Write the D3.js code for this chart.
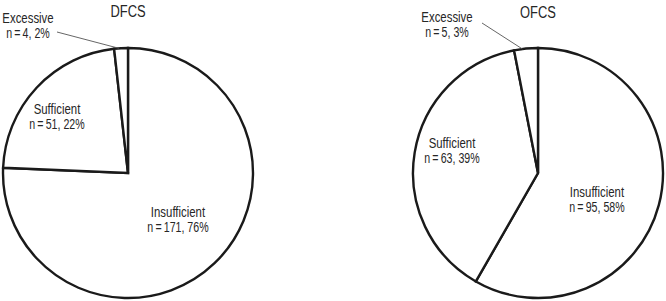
<!DOCTYPE html>
<html>
<head>
<meta charset="utf-8">
<script src="https://cdn.jsdelivr.net/npm/d3@7"></script>
<style>
  html, body { margin: 0; padding: 0; background: #fff; }
  svg text { font-family: "Liberation Sans", Arial, sans-serif; fill: #262626; }
</style>
</head>
<body>
<svg id="chart" width="666" height="301"></svg>
<script>
// datos
const categories = ["Insufficient", "Sufficient", "Excessive"];
const dfcsCounts = [171, 51, 4];
const dfcsPct = [76, 22, 2];
const ofcsCounts = [95, 63, 5];
const ofcsPct = [58, 39, 3];
const titles = ["DFCS", "OFCS"];

// layout de cada torta (centro, radio, posiciones de etiquetas relativas al centro)
const charts = [
  { title: titles[0], counts: dfcsCounts, pct: dfcsPct, cx: 128, cy: 173, r: 125, titleY: 17,
    labels: [{dx: 50, dy: 44}, {dx: -71, dy: -59}, {dx: -100, dy: -150}],
    leaderFrom: {dx: -71, dy: -141} },
  { title: titles[1], counts: ofcsCounts, pct: ofcsPct, cx: 538, cy: 173, r: 125, titleY: 18,
    labels: [{dx: 59, dy: 24}, {dx: -86, dy: -25}, {dx: -91, dy: -151}],
    leaderFrom: {dx: -56, dy: -150} }
];

// fuente condensada: escalamos en x
const SX = 0.76;

function label(parent, x, y, lines, sizes){
  const g = parent.append("g").attr("transform", `translate(${x},${y}) scale(${SX},1)`);
  lines.forEach((s, i) => {
    g.append("text")
      .attr("x", 0)
      .attr("y", i * 15.5)
      .attr("text-anchor", "middle")
      .attr("font-size", sizes[i])
      .text(s);
  });
}

const svg = d3.select("#chart");

const pie = d3.pie().sort(null).value(d => d.count);

charts.forEach(c => {
  const rows = categories.map((name, i) => ({name, count: c.counts[i], pct: c.pct[i]}));
  const arcs = pie(rows);
  const arc = d3.arc().innerRadius(0).outerRadius(c.r);

  const g = svg.append("g").attr("transform", `translate(${c.cx},${c.cy})`);

  // porciones
  g.selectAll("path.slice")
    .data(arcs)
    .join("path")
    .attr("class", "slice")
    .attr("d", arc)
    .attr("fill", "#fff")
    .attr("stroke", "#1a1a1a")
    .attr("stroke-width", 2.4)
    .attr("stroke-linejoin", "miter");

  // titulo
  label(svg, c.cx, c.titleY, [c.title], [17]);

  // linea guia para "Excessive"
  const ex = arcs[2];
  const a = ex.startAngle + 0.35 * (ex.endAngle - ex.startAngle);
  g.append("line")
    .attr("x1", c.leaderFrom.dx)
    .attr("y1", c.leaderFrom.dy)
    .attr("x2", Math.sin(a) * c.r)
    .attr("y2", -Math.cos(a) * c.r)
    .attr("stroke", "#555")
    .attr("stroke-width", 0.9);

  // etiquetas
  arcs.forEach((d, i) => {
    const p = c.labels[i];
    label(g, p.dx, p.dy,
      [d.data.name, `n\u2009=\u2009${d.data.count}, ${d.data.pct}%`],
      [15, 14]);
  });
});
</script>
</body>
</html>
